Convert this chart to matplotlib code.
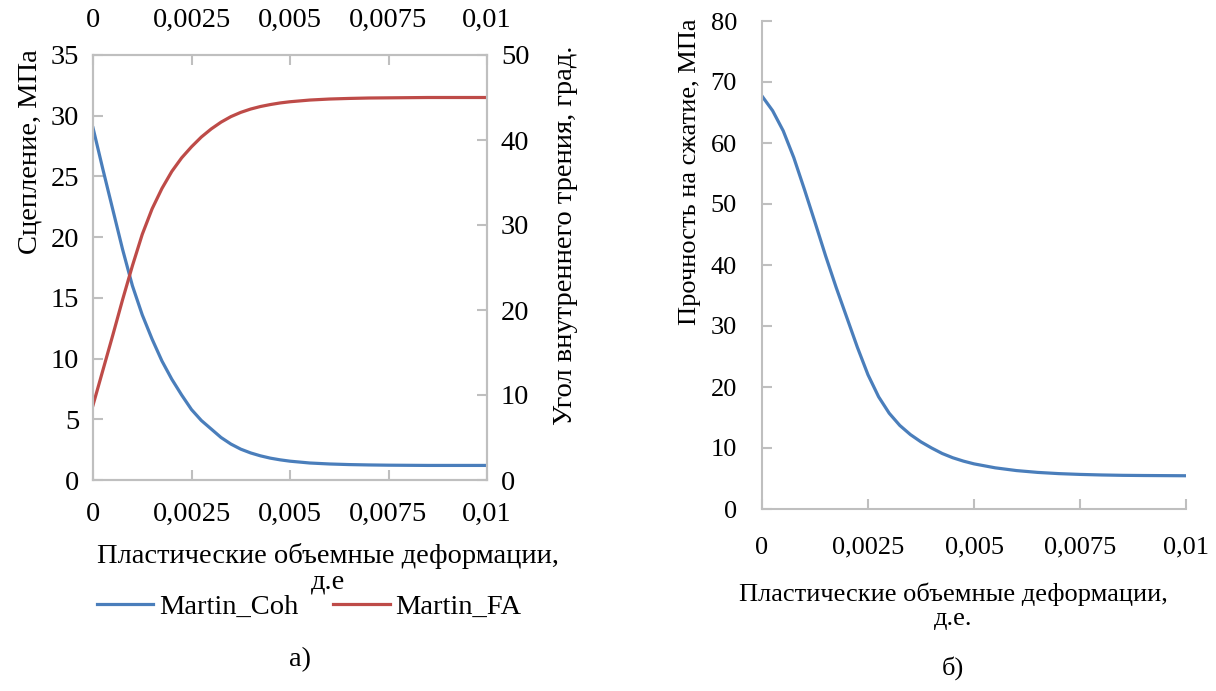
import matplotlib
matplotlib.use("Agg")
import matplotlib.pyplot as plt

# plastic volumetric strain, shared x for every curve
strain = [0, 0.00025, 0.0005, 0.00075, 0.001, 0.00125, 0.0015, 0.00175, 0.002, 0.00225,
          0.0025, 0.00275, 0.003, 0.00325, 0.0035, 0.00375, 0.004, 0.00425, 0.0045, 0.00475,
          0.005, 0.0055, 0.006, 0.0065, 0.007, 0.0075, 0.008, 0.0085, 0.009, 0.0095, 0.01]

# cohesion, MPa
coh = [29.0, 25.6, 22.3, 19.0, 16.0, 13.6, 11.6, 9.8, 8.3, 7.0,
       5.8, 4.9, 4.2, 3.5, 2.96, 2.54, 2.23, 1.99, 1.8, 1.66,
       1.55, 1.4, 1.32, 1.27, 1.24, 1.22, 1.21, 1.2, 1.2, 1.2, 1.2]

# friction angle, deg
fa = [8.8, 12.9, 17.0, 21.2, 25.2, 28.9, 31.9, 34.3, 36.3, 37.9,
      39.2, 40.35, 41.3, 42.1, 42.75, 43.25, 43.64, 43.94, 44.17, 44.36,
      44.5, 44.7, 44.82, 44.89, 44.94, 44.96, 44.98, 45.0, 45.0, 45.0, 45.0]

# compressive strength, MPa
ucs = [67.7, 65.3, 62.0, 57.6, 52.4, 47.0, 41.5, 36.3, 31.4, 26.5,
       22.0, 18.4, 15.7, 13.7, 12.2, 11.0, 10.0, 9.1, 8.4, 7.85,
       7.4, 6.75, 6.3, 6.0, 5.8, 5.67, 5.58, 5.52, 5.49, 5.47, 5.45]

x_ticks = [0, 0.0025, 0.005, 0.0075, 0.01]
x_tick_labels = ["0", "0,0025", "0,005", "0,0075", "0,01"]

plt.rcParams['font.family'] = 'serif'
plt.rcParams['font.serif'] = ['Liberation Serif', 'DejaVu Serif']
FS_A = 20.5
FS_B = 19
BLUE = '#4A7EBB'
RED = '#BE4B48'
SPINE = '#BFBFBF'

fig = plt.figure(figsize=(12.16, 6.91), dpi=100)


def style_axis(a, fs):
    for s in a.spines.values():
        s.set_color(SPINE)
        s.set_linewidth(1.5)
    a.tick_params(direction='in', length=7, width=1.5, color=SPINE,
                  labelsize=fs, labelcolor='black')


## chart a)
ax = fig.add_axes([93 / 1216, 1 - 480 / 691, 394 / 1216, 425 / 691])
ax2 = ax.twinx()
line_c, = ax.plot(strain, coh, color=BLUE, lw=2.3, label='Martin_Coh')
line_f, = ax2.plot(strain, fa, color=RED, lw=2.3, label='Martin_FA')

ax.set_xlim(0, 0.01)
ax.set_ylim(0, 35)
ax.set_yticks(range(0, 36, 5))
ax2.set_ylim(0, 50)
ax2.set_yticks(range(0, 51, 10))
ax.set_xticks(x_ticks)
ax.set_xticklabels(x_tick_labels)
style_axis(ax, FS_A)
style_axis(ax2, FS_A)
ax.tick_params(axis='x', top=True, labeltop=True)
ax.tick_params(axis='x', which='major', pad=16)
ax.tick_params(axis='y', pad=10)
ax2.tick_params(axis='y', pad=10)

fig.text(30 / 1216, 1 - 152 / 691, 'Сцепление, МПа', rotation=90,
         ha='center', va='center', fontsize=FS_A)
fig.text(566 / 1216, 1 - 235 / 691, 'Угол внутреннего трения, град.', rotation=90,
         ha='center', va='center', fontsize=FS_A)
fig.text(328 / 1216, 1 - 569 / 691, 'Пластические объемные деформации,\nд.е',
         ha='center', va='center', fontsize=FS_A, linespacing=1.05)
fig.legend([line_c, line_f], ['Martin_Coh', 'Martin_FA'], loc='center',
           bbox_to_anchor=(309 / 1216, 1 - 607 / 691), ncol=2, frameon=False,
           fontsize=FS_A, handlelength=2.0, handletextpad=0.2, columnspacing=1.2)
fig.text(300 / 1216, 1 - 660 / 691, 'а)', ha='center', va='center', fontsize=FS_A)

## chart б)
bx = fig.add_axes([762 / 1216, 1 - 509 / 691, 424 / 1216, 488 / 691])
bx.plot(strain, ucs, color=BLUE, lw=2.3)
bx.set_xlim(0, 0.01)
bx.set_ylim(0, 80)
bx.set_yticks(range(0, 81, 10))
bx.set_xticks(x_ticks)
bx.set_xticklabels(x_tick_labels)
style_axis(bx, FS_B)
bx.spines['top'].set_visible(False)
bx.spines['right'].set_visible(False)
bx.tick_params(axis='x', pad=20)
bx.tick_params(axis='y', pad=18)

fig.text(690 / 1216, 1 - 172 / 691, 'Прочность на сжатие, МПа', rotation=90,
         ha='center', va='center', fontsize=FS_B)
fig.text(953 / 1216, 1 - 606 / 691, 'Пластические объемные деформации,\nд.е.',
         ha='center', va='center', fontsize=FS_B, linespacing=1.1)
fig.text(953 / 1216, 1 - 668 / 691, 'б)', ha='center', va='center', fontsize=FS_B)

fig.savefig('out.png', dpi=100)
